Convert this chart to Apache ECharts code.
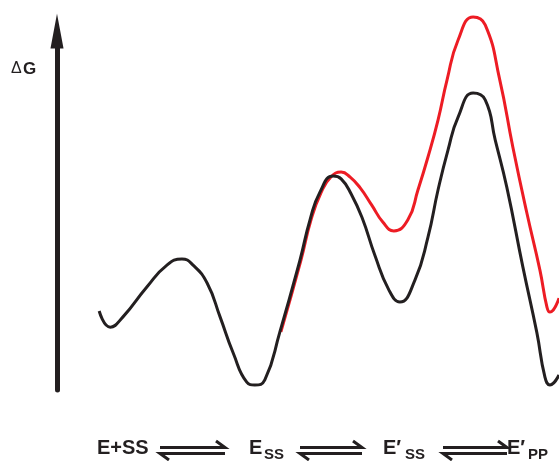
<!DOCTYPE html>
<html>
<head>
<meta charset="UTF-8">
<title>ΔG profile</title>
<style>
    html,body{margin:0;padding:0;background:#fff;}
    #chart{width:559px;height:461px;}
</style>
</head>
<body>
<div id="chart"></div>
<script src="https://cdn.jsdelivr.net/npm/echarts/dist/echarts.min.js"></script>
<script>
    // reaction coordinate (0-100) / relative free energy (0-100)
    let blackPath = [
        [8.4,22.0],[10.6,17.5],[13.1,20.3],[17.9,28.7],[21.9,34.8],[24.9,36.5],[27.1,34.8],
        [29.9,29.8],[32.5,20.3],[35.1,10.3],[37.8,2.2],[39.4,1.4],[41.4,2.8],[44.4,16.2],
        [48.4,36.2],[50.4,47.4],[52.4,55.2],[55.0,59.6],[56.6,58.8],[58.6,54.6],[60.8,47.9],
        [63.3,37.6],[66.1,27.9],[68.3,24.5],[71.3,30.6],[73.9,42.6],[75.9,55.7],[77.9,66.9],
        [79.9,76.0],[82.9,82.7],[85.3,80.8],[87.3,69.6],[89.6,56.5],[92.8,34.3],[95.6,15.9],
        [97.2,3.6],[98.2,1.4],[100,4.2]
    ];
    let redPath = [
        [44.6,16.2],[48.6,36.2],[50.6,47.4],[52.6,55.0],[54.6,59.4],[56.6,60.7],[58.4,59.3],
        [60.4,56.3],[62.7,51.5],[64.9,46.8],[67.1,44.3],[69.9,47.4],[71.9,55.7],[73.9,64.9],
        [75.9,75.2],[77.7,86.4],[79.9,97.5],[82.9,103.9],[85.3,101.7],[88.2,86.4],[90.8,67.7],
        [93.6,49.3],[96.2,33.4],[97.6,23.1],[98.2,21.7],[100,25.6]
    ];
    let stateMain = ['E+SS', 'E', 'E\u2032', 'E\u2032'];
    let stateSub = ['', 'SS', 'SS', 'PP'];
    let axisTitle = ['\u0394', 'G'];

    let myChart = echarts.init(document.getElementById('chart'));

    let ink = '#231f20';
    let mainX = [97, 249, 383, 507];
    let subX = [0, 264, 405, 528];
    let arrowX = [[160, 225], [300, 362], [443, 507]];

    let graphics = [];
    for (let i = 0; i < stateMain.length; i++) {
        graphics.push({
            type: 'text', left: mainX[i], top: 438,
            style: {text: stateMain[i], font: 'bold 20px "Liberation Sans", Arial', fill: ink}
        });
        if (stateSub[i]) {
            graphics.push({
                type: 'text', left: subX[i], top: 447,
                style: {text: stateSub[i], font: 'bold 15px "Liberation Sans", Arial', fill: ink}
            });
        }
    }
    // equilibrium harpoons
    for (let i = 0; i < arrowX.length; i++) {
        let a = arrowX[i][0], b = arrowX[i][1];
        graphics.push(
            {type: 'polyline', shape: {points: [[a, 447.5], [b, 447.5], [b - 9, 441]]}, style: {stroke: ink, lineWidth: 3, fill: null}},
            {type: 'polyline', shape: {points: [[b, 453.5], [a, 453.5], [a + 9, 460]]}, style: {stroke: ink, lineWidth: 3, fill: null}}
        );
    }
    graphics.push(
        {type: 'text', left: 11, top: 61, style: {text: axisTitle[0], font: '16px "Liberation Sans", Arial', fill: ink}},
        {type: 'text', left: 23, top: 61, style: {text: axisTitle[1], font: 'bold 17px "Liberation Sans", Arial', fill: ink}}
    );

    let option = {
        animation: false,
        backgroundColor: '#fff',
        grid: {left: 57, right: 0, top: 31, bottom: 71},
        xAxis: {type: 'value', min: 0, max: 100, show: false},
        yAxis: {
            type: 'value', min: 0, max: 100,
            axisLine: {
                show: true, onZero: false,
                symbol: ['none', 'triangle'], symbolSize: [13, 35],
                lineStyle: {color: ink, width: 5}
            },
            axisTick: {show: false},
            axisLabel: {show: false},
            splitLine: {show: false}
        },
        series: [
            {
                type: 'line', data: redPath, smooth: 0.5, symbol: 'none', clip: false,
                lineStyle: {color: '#ed1c24', width: 3}
            },
            {
                type: 'line', data: blackPath, smooth: 0.5, symbol: 'none', clip: false,
                lineStyle: {color: ink, width: 3}
            }
        ],
        graphic: graphics
    };
    myChart.setOption(option);
</script>
</body>
</html>
